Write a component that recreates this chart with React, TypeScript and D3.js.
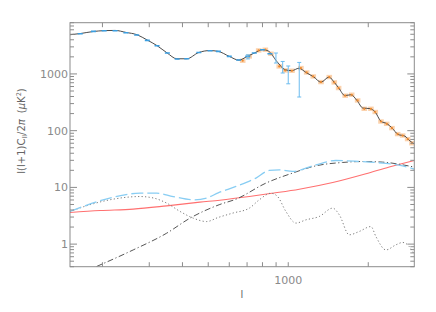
import React from "react";
import * as d3 from "d3";

// theory curve l(l+1)C_l/2pi (uK^2)
const theoryL = [151, 165, 185, 203, 223, 245, 270, 295, 321, 350, 381, 415, 460, 507, 545, 600, 652, 700, 745, 800, 840, 907, 972, 1030, 1097, 1166, 1249, 1328, 1423, 1490, 1547, 1634, 1722, 1814, 1910, 2029, 2120, 2233, 2351, 2456, 2587, 2748, 2870, 2980];
const theoryV = [4910, 5150, 5600, 5800, 5850, 5400, 4900, 3950, 3150, 2350, 1850, 1850, 2380, 2580, 2500, 2040, 1750, 2030, 2330, 2680, 2550, 1650, 1190, 1140, 1260, 1060, 880, 715, 880, 710, 570, 415, 430, 340, 250, 245, 215, 146, 133, 112, 86, 80, 66, 58];

// low-l binned points (blue)
const blueL = [165, 185, 203, 223, 245, 269, 295, 321, 351, 382, 415, 461, 508, 546, 600, 651, 704, 745, 801, 853];
const blueV = [5117, 5623, 5780, 5780, 5333, 4856, 3899, 3144, 2337, 1832, 1855, 2393, 2565, 2494, 2036, 1758, 2036, 2337, 2673, 2270];

// blue error bars
const barL = [705, 899, 953, 1000, 1100];
const barLo = [1840, 1557, 1038, 670, 392];
const barHi = [2170, 2337, 1660, 1380, 1595];

// high-l points (orange)
const orangeL = [674, 713, 774, 820, 861, 925, 974, 1033, 1116, 1173, 1242, 1328, 1427, 1490, 1547, 1638, 1732, 1824, 1932, 2047, 2125, 2233, 2346, 2455, 2580, 2694, 2813, 2920];
const orangeV = [1710, 2036, 2596, 2673, 2270, 1356, 1153, 1138, 1269, 1062, 903, 719, 881, 708, 564, 413, 430, 341, 243, 243, 213, 145, 132, 111, 87, 82, 71, 60];

// light blue dashed
const dashL = [151, 213, 277, 320, 369, 439, 493, 545, 636, 756, 848, 925, 1039, 1271, 1511, 1849, 2265, 2693, 2980];
const dashV = [3.76, 6.48, 7.9, 7.9, 6.9, 6.04, 6.5, 8.0, 10.4, 14.6, 19.9, 20.4, 19.1, 25.0, 29.8, 28.6, 26.8, 24.0, 21.0];

// dash-dot
const ddL = [190, 261, 349, 427, 553, 636, 824, 1039, 1271, 1600, 1905, 2265, 2693, 2980];
const ddV = [0.403, 0.79, 1.56, 2.87, 5.0, 6.2, 11.9, 17.9, 24.0, 27.5, 28.6, 27.9, 25.0, 22.8];

// red solid
const redL = [151, 196, 261, 349, 465, 553, 714, 874, 1100, 1470, 1960, 2398, 2980];
const redV = [3.61, 3.91, 4.14, 4.73, 5.5, 5.95, 6.9, 7.9, 9.3, 12.2, 17.4, 22.9, 29.8];

// dotted
const dotL = [151, 179, 213, 277, 311, 349, 392, 439, 493, 545, 618, 714, 778, 861, 912, 980, 1069, 1166, 1308, 1470, 1556, 1696, 1849, 2047, 2137, 2331, 2540, 2693, 2850, 2980];
const dotV = [3.76, 4.93, 6.04, 6.9, 6.5, 5.28, 3.76, 2.87, 2.5, 2.95, 3.52, 4.31, 6.04, 7.9, 6.9, 3.76, 2.35, 2.68, 3.07, 4.31, 3.29, 1.46, 1.67, 2.04, 1.36, 0.79, 0.97, 1.07, 0.91, 0.65];

const xMajor = [1000];
const xMinor = [200, 300, 400, 500, 600, 700, 800, 900, 2000];
const yLabels = [1, 10, 100, 1000];

const W = 436;
const H = 312;
const L = 70, R = 414.3, T = 22.7, B = 266.7;

export default function App() {
  const x = d3.scaleLog().domain([151, 2980]).range([L, R]);
  const y = d3.scaleLog().domain([0.4, 8000]).range([B, T]);

  const mk = (ls: number[], vs: number[]) =>
    d3.line<number>()
      .x((_, i) => x(ls[i]))
      .y((_, i) => y(vs[i]))
      .curve(d3.curveMonotoneX)(ls) || "";

  const axisCol = "#8c8c8c";
  const font = "DejaVu Sans, sans-serif";
  const yTicks = y.ticks();
  const isMajor = (v: number) => Math.abs(Math.log10(v) - Math.round(Math.log10(v))) < 1e-6;
  const xTicks = [...xMinor, ...xMajor];

  return (
    <svg width={W} height={H} style={{ position: "absolute", left: 0, top: 0, background: "#fff" }}>
      <defs>
        <clipPath id="plot">
          <rect x={L} y={T} width={R - L} height={B - T} />
        </clipPath>
      </defs>

      <g clipPath="url(#plot)" fill="none">
        <path d={mk(redL, redV)} stroke="#ff7070" strokeWidth={1.1} />
        <path d={mk(dotL, dotV)} stroke="#7a7a7a" strokeWidth={1} strokeDasharray="1.2,2.3" />
        <path d={mk(ddL, ddV)} stroke="#555" strokeWidth={1} strokeDasharray="6,2.5,1.2,2.5" />
        <path d={mk(dashL, dashV)} stroke="#88cdf3" strokeWidth={1.3} strokeDasharray="12,4" />

        {orangeL.map((l, i) => (
          <rect key={"oh" + i} x={x(l) - 2.8} y={y(orangeV[i]) - 2.2} width={5.6} height={4.4} fill="#fbd2ad" />
        ))}
        <path d={mk(theoryL, theoryV)} stroke="#4a4a4a" strokeWidth={1} />
        {orangeL.map((l, i) => (
          <circle key={"o" + i} cx={x(l)} cy={y(orangeV[i])} r={1.1} fill="#f08a2c" />
        ))}
        {blueL.map((l, i) => (
          <line key={"b" + i} x1={x(l) - 2.5} x2={x(l) + 2.5} y1={y(blueV[i])} y2={y(blueV[i])} stroke="#3b9ee0" strokeWidth={1.6} />
        ))}
        {barL.map((l, i) => (
          <g key={"e" + i} stroke="#6cbcef" strokeWidth={1}>
            <line x1={x(l)} x2={x(l)} y1={y(barLo[i])} y2={y(barHi[i])} />
            <line x1={x(l) - 2} x2={x(l) + 2} y1={y(barLo[i])} y2={y(barLo[i])} />
            <line x1={x(l) - 2} x2={x(l) + 2} y1={y(barHi[i])} y2={y(barHi[i])} />
          </g>
        ))}
      </g>

      {/* frame */}
      <rect x={L} y={T} width={R - L} height={B - T} fill="none" stroke={axisCol} strokeWidth={1} />

      {/* x ticks, bottom and top */}
      {xTicks.map((t) => (
        <g key={"xt" + t} stroke={axisCol}>
          <line x1={x(t)} x2={x(t)} y1={B} y2={B - 4.5} />
          <line x1={x(t)} x2={x(t)} y1={T} y2={T + 4.5} />
        </g>
      ))}
      {xMajor.map((t) => (
        <text key={"xl" + t} x={x(t)} y={284} textAnchor="middle" fontFamily={font} fontSize={11} fill="#8a8a8a">
          {t}
        </text>
      ))}

      {/* y ticks, left and right */}
      {yTicks.map((t) => {
        const len = isMajor(t) ? 7 : 4;
        return (
          <g key={"yt" + t} stroke={axisCol}>
            <line x1={L} x2={L + len} y1={y(t)} y2={y(t)} />
            <line x1={R} x2={R - len} y1={y(t)} y2={y(t)} />
          </g>
        );
      })}
      {yLabels.map((t) => (
        <text key={"yl" + t} x={68} y={y(t) + 4} textAnchor="end" fontFamily={font} fontSize={11} fill="#8a8a8a">
          {t}
        </text>
      ))}

      {/* axis titles */}
      <text x={242} y={298} textAnchor="middle" fontFamily={font} fontSize={10} fill="#666">
        l
      </text>
      <text transform="translate(25,131) rotate(-90)" textAnchor="middle" fontFamily={font} fontSize={10} fill="#666">
        l(l+1)C<tspan fontSize={6.5} dy={2}>ll</tspan>
        <tspan dy={-2}>/2</tspan>
        <tspan fontStyle="italic">π</tspan>
        <tspan dx={6}>(</tspan>
        <tspan fontStyle="italic">μ</tspan>
        <tspan>K</tspan>
        <tspan fontSize={6.5} dy={-4}>2</tspan>
        <tspan dy={4}>)</tspan>
      </text>
    </svg>
  );
}
